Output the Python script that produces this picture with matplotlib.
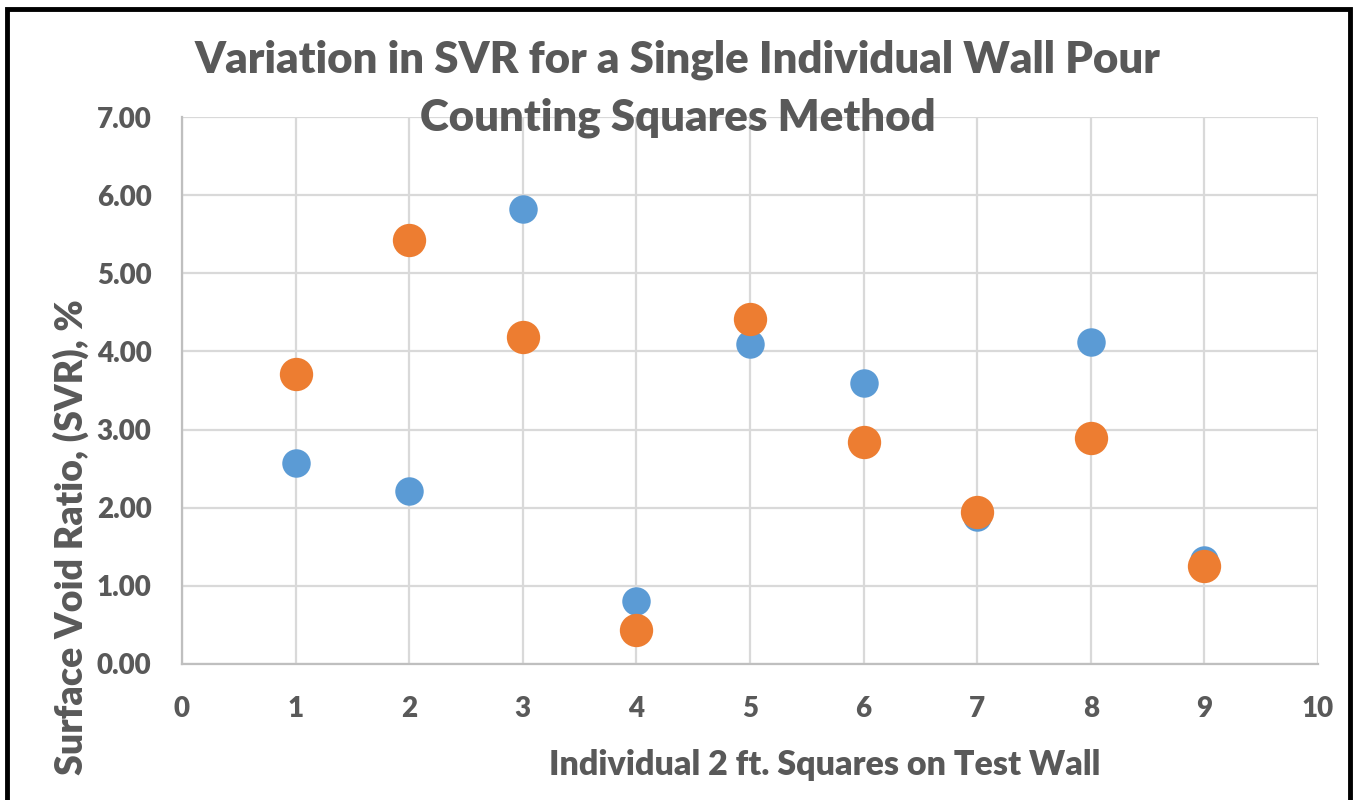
import matplotlib
matplotlib.use("Agg")
import matplotlib.pyplot as plt
from matplotlib.patches import Rectangle

plt.rcParams['font.family'] = ['Lato', 'DejaVu Sans']

# Data
squares = [1, 2, 3, 4, 5, 6, 7, 8, 9]
svr_blue = [2.57, 2.21, 5.82, 0.81, 4.10, 3.60, 1.88, 4.12, 1.33]
svr_orange = [3.71, 5.42, 4.19, 0.43, 4.41, 2.84, 1.95, 2.89, 1.25]
x_ticks = [0, 1, 2, 3, 4, 5, 6, 7, 8, 9, 10]
y_ticks = [0, 1, 2, 3, 4, 5, 6, 7]

TXT = '#595959'
WT = 'heavy'
W, H = 1353, 800

fig = plt.figure(figsize=(W / 100, H / 100), dpi=100)
ax = fig.add_axes([182 / W, 1 - 664 / H, (1318 - 182) / W, (664 - 117) / H])

ax.plot(squares, svr_blue, 'o', color='#5B9BD5', markersize=20.5, markeredgewidth=0, zorder=3)
ax.plot(squares, svr_orange, 'o', color='#ED7D31', markersize=24, markeredgewidth=0, zorder=4)

ax.set_xlim(0, 10)
ax.set_ylim(0, 7)
ax.set_xticks(x_ticks)
ax.set_yticks(y_ticks)
ax.set_yticklabels(['%.2f' % v for v in y_ticks])
ax.grid(True, color='#d9d9d9', linewidth=1.6)
ax.set_axisbelow(True)
for s in ['top', 'right']:
    ax.spines[s].set_visible(False)
for s in ['left', 'bottom']:
    ax.spines[s].set_color('#bfbfbf')
    ax.spines[s].set_linewidth(1.6)
ax.tick_params(length=0, labelsize=20, labelcolor=TXT)
ax.tick_params(axis='y', pad=22)
ax.tick_params(axis='x', pad=23)
for lab in ax.get_xticklabels() + ax.get_yticklabels():
    lab.set_fontweight(WT)

fig.text(825 / W, 1 - 765 / H, 'Individual 2 ft. Squares on Test Wall', fontsize=24.5,
         fontweight=WT, color=TXT, ha='center', va='center')
fig.text(71 / W, 1 - 537 / H, 'Surface Void Ratio, (SVR), %', rotation=90, fontsize=27,
         fontweight=WT, color=TXT, ha='center', va='center')

fig.text(678 / W, 1 - 60 / H, 'Variation in SVR for a Single Individual Wall Pour',
         fontsize=31.5, fontweight=WT, color=TXT, ha='center', va='center')
fig.text(678 / W, 1 - 118 / H, 'Counting Squares Method',
         fontsize=31.5, fontweight=WT, color=TXT, ha='center', va='center')

# black frame around the chart
fig.patches.append(Rectangle((7 / W, -0.05), (1350 - 7) / W, 1 - 9 / H + 0.05,
                             transform=fig.transFigure, fill=False,
                             edgecolor='black', linewidth=3.5))

fig.savefig('out.png', dpi=100)
